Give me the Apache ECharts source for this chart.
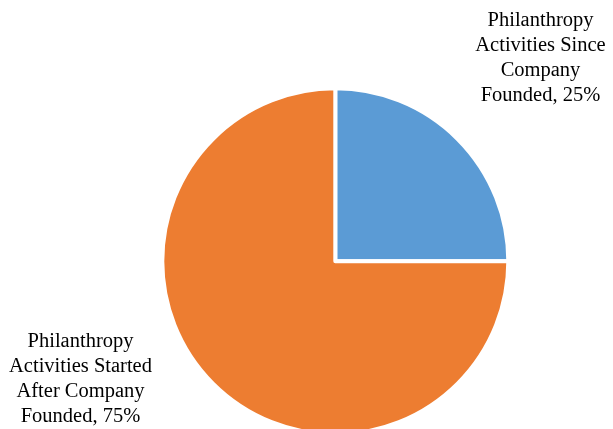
<!DOCTYPE html>
<html>
<head>
<meta charset="utf-8">
<script src="https://cdn.jsdelivr.net/npm/echarts@6/dist/echarts.min.js"></script>
<style>
  html, body { margin: 0; padding: 0; background: #fff; }
  #chart { width: 613px; height: 429px; }
</style>
</head>
<body>
<div id="chart"></div>
<script>
// Slice names (line-broken as displayed) and their shares
var categories = [
  'Philanthropy\nActivities Since\nCompany\nFounded',
  'Philanthropy\nActivities Started\nAfter Company\nFounded'
];
var values = [25, 75];
var colors = ['#5B9BD5', '#ED7D31'];

// Where each label block is centred
var labelSpots = [
  { x: 540.5, y: 58 },
  { x: 80.5, y: 379 }
];

var chart = echarts.init(document.getElementById('chart'));
chart.setOption({
  animation: false,
  series: [{
    type: 'pie',
    center: [335.3, 261.3],
    radius: [0, 173],
    startAngle: 90,
    clockwise: true,
    data: categories.map(function (name, i) {
      return { name: name, value: values[i], itemStyle: { color: colors[i] } };
    }),
    itemStyle: { borderColor: '#fff', borderWidth: 4 },
    label: {
      show: true,
      formatter: '{b}, {c}%',
      fontFamily: 'Liberation Serif',
      fontSize: 20.5,
      lineHeight: 25,
      color: '#000',
      align: 'center',
      overflow: 'none',
      width: 200
    },
    labelLine: { show: false },
    labelLayout: function (params) {
      var s = labelSpots[params.dataIndex];
      return { x: s.x, y: s.y, align: 'center', verticalAlign: 'middle' };
    },
    emphasis: { disabled: true }
  }]
});
</script>
</body>
</html>
